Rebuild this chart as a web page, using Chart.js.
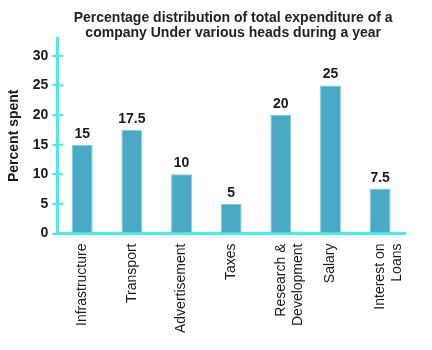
<!DOCTYPE html>
<html>
<head>
<meta charset="utf-8">
<script src="https://cdn.jsdelivr.net/npm/chart.js@4.4.0/dist/chart.umd.min.js"></script>
<style>
  html, body { margin: 0; padding: 0; background: #fff; }
  #wrap { width: 432px; height: 350px; position: relative; }
</style>
</head>
<body>
<div id="wrap"><canvas id="chart"></canvas></div>
<script>
  // chart data
  const categories = ['Infrastructure', 'Transport', 'Advertisement', 'Taxes',
    ['Research &', 'Development'], 'Salary', ['Interest on', 'Loans']];
  const percentSpent = [15, 17.5, 10, 5, 20, 25, 7.5];
  const yTicks = [0, 5, 10, 15, 20, 25, 30];
  const titleLines = ['Percentage distribution of total expenditure of a',
    'company Under various heads during a year'];

  const AXIS = '#3ef0f0';
  const FONT = "'Liberation Sans', Arial, sans-serif";

  // title centred over the plot area
  const plotTitle = {
    id: 'plotTitle',
    afterDraw(chart) {
      const ctx = chart.ctx;
      const area = chart.chartArea;
      const cx = (area.left + area.right) / 2 + 2;
      ctx.save();
      ctx.font = 'bold 14px ' + FONT;
      ctx.fillStyle = '#222';
      ctx.textAlign = 'center';
      ctx.textBaseline = 'middle';
      titleLines.forEach(function(line, i) {
        ctx.fillText(line, cx, 18 + i * 15);
      });
      ctx.restore();
    }
  };

  // value labels above bars
  const valueLabels = {
    id: 'valueLabels',
    afterDatasetsDraw(chart) {
      const ctx = chart.ctx;
      const meta = chart.getDatasetMeta(0);
      ctx.save();
      ctx.font = 'bold 14px ' + FONT;
      ctx.fillStyle = '#1a1a1a';
      ctx.textAlign = 'center';
      ctx.textBaseline = 'bottom';
      meta.data.forEach(function(bar, i) {
        ctx.fillText(String(percentSpent[i]), bar.x, bar.y - 4);
      });
      ctx.restore();
    }
  };

  // inward half of the y tick marks so they cross the axis
  const crossTicks = {
    id: 'crossTicks',
    afterDraw(chart) {
      const ctx = chart.ctx;
      const y = chart.scales.y;
      ctx.save();
      ctx.strokeStyle = AXIS;
      ctx.lineWidth = 2;
      yTicks.forEach(function(v) {
        if (v === 0) return;
        const py = y.getPixelForValue(v);
        ctx.beginPath();
        ctx.moveTo(y.right, py);
        ctx.lineTo(y.right + 6, py);
        ctx.stroke();
      });
      ctx.restore();
    }
  };

  new Chart(document.getElementById('chart'), {
    type: 'bar',
    data: {
      labels: categories,
      datasets: [{
        data: percentSpent,
        backgroundColor: '#4aa9c5',
        borderColor: '#74cfdc',
        borderWidth: 1,
        categoryPercentage: 1,
        barPercentage: 0.42
      }]
    },
    options: {
      responsive: true,
      maintainAspectRatio: false,
      animation: false,
      layout: { padding: { top: 38, right: 27, left: 6, bottom: 7 } },
      plugins: {
        legend: { display: false },
        tooltip: { enabled: false },
        title: { display: false }
      },
      scales: {
        x: {
          grid: { display: false, drawTicks: false },
          border: { color: AXIS, width: 3 },
          ticks: {
            color: '#1a1a1a',
            font: { family: FONT, size: 14 },
            minRotation: 90,
            maxRotation: 90,
            padding: 10,
            autoSkip: false
          }
        },
        y: {
          min: 0,
          max: 33,
          afterBuildTicks: function(scale) {
            scale.ticks = yTicks.map(function(v) { return { value: v }; });
          },
          grid: {
            drawOnChartArea: false,
            color: AXIS,
            lineWidth: 2,
            tickLength: 5
          },
          border: { color: AXIS, width: 3 },
          ticks: {
            color: '#1a1a1a',
            font: { family: FONT, size: 14, weight: 'bold' },
            padding: 4
          },
          title: {
            display: true,
            text: 'Percent spent',
            color: '#1a1a1a',
            font: { family: FONT, size: 14, weight: 'bold' },
            padding: { top: 0, bottom: 6 }
          }
        }
      }
    },
    plugins: [plotTitle, valueLabels, crossTicks]
  });
</script>
</body>
</html>
